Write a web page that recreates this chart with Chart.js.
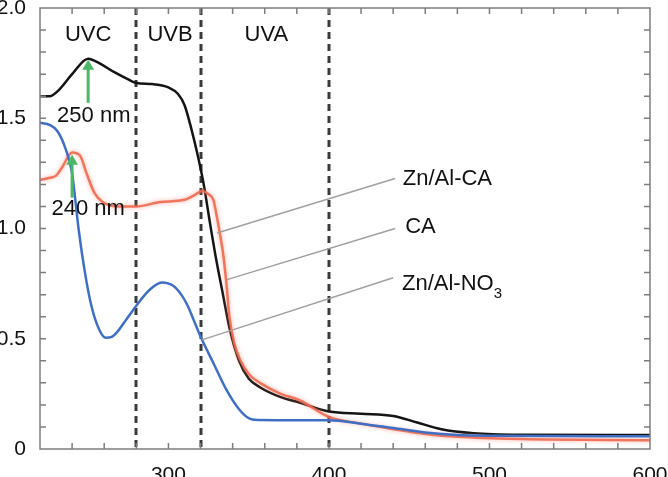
<!DOCTYPE html>
<html>
<head>
<meta charset="utf-8">
<script src="https://cdn.jsdelivr.net/npm/chart.js@4.4.0/dist/chart.umd.min.js"></script>
<style>
  html, body { margin: 0; padding: 0; background: #fff; }
  #wrap { width: 668px; height: 477px; }
</style>
</head>
<body>
<div id="wrap"><canvas id="chart" width="668" height="477"></canvas></div>
<script>
// wavelength (nm) and absorbance
const znAlCaX = [220, 226, 232, 240, 250, 258, 266, 274, 280, 290, 300, 306, 310, 314, 318, 322, 326, 330, 334, 338, 344, 350, 357, 370, 382, 400, 420, 440, 455, 470, 490, 520, 600];
const znAlCaY = [1.60, 1.60, 1.63, 1.70, 1.77, 1.745, 1.71, 1.68, 1.66, 1.655, 1.64, 1.61, 1.56, 1.46, 1.34, 1.20, 1.02, 0.85, 0.70, 0.55, 0.40, 0.32, 0.28, 0.235, 0.21, 0.17, 0.16, 0.15, 0.12, 0.09, 0.072, 0.065, 0.063];

const caX = [220, 226, 230, 234, 240, 245, 249, 254, 259, 268, 280, 295, 310, 316, 321, 325, 328, 330, 332, 334, 336, 338, 341, 345, 350, 357, 370, 382, 400, 420, 440, 460, 480, 520, 600];
const caY = [1.22, 1.23, 1.24, 1.28, 1.345, 1.33, 1.25, 1.16, 1.12, 1.10, 1.10, 1.12, 1.13, 1.15, 1.17, 1.155, 1.13, 1.06, 0.98, 0.89, 0.76, 0.60, 0.48, 0.40, 0.34, 0.30, 0.25, 0.22, 0.145, 0.115, 0.09, 0.068, 0.055, 0.045, 0.04];

const znAlNo3X = [220, 226, 231, 236, 240, 242, 244, 248, 252, 257, 261, 265, 268, 274, 280, 288, 296, 303, 308, 312, 316, 320, 328, 336, 344, 350, 356, 400, 420, 440, 460, 480, 500, 600];
const znAlNo3Y = [1.48, 1.47, 1.44, 1.36, 1.25, 1.13, 1.0, 0.80, 0.65, 0.54, 0.505, 0.51, 0.53, 0.59, 0.65, 0.72, 0.755, 0.74, 0.70, 0.65, 0.58, 0.51, 0.39, 0.27, 0.18, 0.14, 0.132, 0.13, 0.115, 0.095, 0.075, 0.063, 0.06, 0.058];

// UV band borders and names
const bandEdges = [280, 320, 400];
const bandNames = ['UVC', 'UVB', 'UVA'];
const bandLabelX = [250, 301, 361];

// peak arrows
const peakX = [250, 240];
const peakTop = [1.765, 1.335];
const peakBottom = [1.57, 1.14];
const peakText = ['250 nm', '240 nm'];
const peakTextX = [253.5, 250];
const peakTextY = [1.51, 1.09];

// curve names with their leader lines
const curveNames = ['Zn/Al-CA', 'CA', 'Zn/Al-NO'];
const leaderFrom = [[330.3, 0.98], [336.5, 0.768], [320.9, 0.495]];
const leaderTo = [[441.2, 1.227], [441.2, 1.0], [440, 0.777]];
const nameAt = [[446, 1.223], [447.5, 1.005], [445.5, 0.75]];

const FONT = '"Liberation Sans", Arial, sans-serif';

function toPoints(xs, ys) {
  return xs.map((x, i) => ({ x: x, y: ys[i] }));
}

// keep the plot box where the picture has it: no extra room for edge labels
function noEdgePadding(scale) {
  scale.paddingLeft = 0;
  scale.paddingRight = 0;
  scale.paddingTop = 0;
  scale.paddingBottom = 0;
}

// dashed band borders, under the curves
const bandPlugin = {
  id: 'bands',
  beforeDatasetsDraw(chart) {
    const { ctx, chartArea, scales } = chart;
    ctx.save();
    ctx.strokeStyle = '#3a3a3a';
    ctx.lineWidth = 3;
    ctx.setLineDash([7, 5]);
    bandEdges.forEach(v => {
      const px = Math.round(scales.x.getPixelForValue(v));
      ctx.beginPath();
      ctx.moveTo(px, chartArea.top);
      ctx.lineTo(px, chartArea.bottom);
      ctx.stroke();
    });
    ctx.restore();
  }
};

// the CA curve has a soft reddish halo in the picture
const glowPlugin = {
  id: 'glow',
  beforeDatasetDraw(chart, args) {
    if (args.index !== 1) return;
    chart.ctx.save();
    chart.ctx.shadowColor = 'rgba(245, 130, 110, 0.7)';
    chart.ctx.shadowBlur = 4;
  },
  afterDatasetDraw(chart, args) {
    if (args.index !== 1) return;
    chart.ctx.restore();
  }
};

// frame, inward ticks and all the text on the plot
const framePlugin = {
  id: 'frame',
  afterDraw(chart) {
    const { ctx, chartArea, scales } = chart;
    const { left, right, top, bottom } = chartArea;
    const x = scales.x, y = scales.y;
    ctx.save();

    ctx.strokeStyle = '#7d7d7d';
    ctx.lineWidth = 1.5;
    ctx.strokeRect(left, top, right - left, bottom - top);

    ctx.beginPath();
    x.ticks.forEach(t => {
      const px = x.getPixelForValue(t.value);
      if (px <= left + 1 || px >= right - 1) return;
      ctx.moveTo(px, bottom); ctx.lineTo(px, bottom - 6);
      ctx.moveTo(px, top); ctx.lineTo(px, top + 6);
    });
    y.ticks.forEach(t => {
      const py = y.getPixelForValue(t.value);
      if (py <= top + 1 || py >= bottom - 1) return;
      ctx.moveTo(left, py); ctx.lineTo(left + 6, py);
      ctx.moveTo(right, py); ctx.lineTo(right - 6, py);
    });
    ctx.stroke();

    // band names
    ctx.fillStyle = '#111';
    ctx.font = '22px ' + FONT;
    ctx.textAlign = 'center';
    ctx.textBaseline = 'middle';
    bandNames.forEach((n, i) => {
      ctx.fillText(n, x.getPixelForValue(bandLabelX[i]), y.getPixelForValue(1.88));
    });

    // green arrows and peak labels
    ctx.strokeStyle = '#4cb866';
    ctx.fillStyle = '#4cb866';
    ctx.lineWidth = 3;
    peakX.forEach((v, i) => {
      const px = x.getPixelForValue(v);
      const pt = y.getPixelForValue(peakTop[i]);
      const pb = y.getPixelForValue(peakBottom[i]);
      ctx.beginPath();
      ctx.moveTo(px, pb);
      ctx.lineTo(px, pt + 8);
      ctx.stroke();
      ctx.beginPath();
      ctx.moveTo(px, pt);
      ctx.lineTo(px - 6, pt + 10);
      ctx.lineTo(px + 6, pt + 10);
      ctx.closePath();
      ctx.fill();
    });
    ctx.fillStyle = '#111';
    peakText.forEach((s, i) => {
      ctx.fillText(s, x.getPixelForValue(peakTextX[i]), y.getPixelForValue(peakTextY[i]));
    });

    // leader lines
    ctx.strokeStyle = '#a0a0a0';
    ctx.lineWidth = 1.5;
    leaderFrom.forEach((p, i) => {
      ctx.beginPath();
      ctx.moveTo(x.getPixelForValue(p[0]), y.getPixelForValue(p[1]));
      ctx.lineTo(x.getPixelForValue(leaderTo[i][0]), y.getPixelForValue(leaderTo[i][1]));
      ctx.stroke();
    });

    // curve names, the last one gets a subscript 3
    ctx.textAlign = 'left';
    curveNames.forEach((n, i) => {
      const px = x.getPixelForValue(nameAt[i][0]);
      const py = y.getPixelForValue(nameAt[i][1]);
      ctx.font = '22px ' + FONT;
      ctx.fillText(n, px, py);
      if (i === 2) {
        const w = ctx.measureText(n).width;
        ctx.font = '15px ' + FONT;
        ctx.fillText('3', px + w, py + 10);
      }
    });

    ctx.restore();
  }
};

const ctx = document.getElementById('chart').getContext('2d');
new Chart(ctx, {
  type: 'line',
  data: {
    datasets: [
      {
        label: 'Zn/Al-NO3',
        data: toPoints(znAlNo3X, znAlNo3Y),
        borderColor: '#3f6fc4',
        borderWidth: 2.5
      },
      {
        label: 'CA',
        data: toPoints(caX, caY),
        borderColor: 'rgba(240, 105, 80, 0.9)',
        borderWidth: 2.5
      },
      {
        label: 'Zn/Al-CA',
        data: toPoints(znAlCaX, znAlCaY),
        borderColor: '#141414',
        borderWidth: 2.5
      }
    ]
  },
  options: {
    responsive: false,
    animation: false,
    layout: { padding: { top: 8, right: 18, left: 0, bottom: 0 } },
    elements: {
      point: { radius: 0 },
      line: { cubicInterpolationMode: 'monotone', fill: false }
    },
    plugins: {
      legend: { display: false },
      tooltip: { enabled: false }
    },
    scales: {
      x: {
        type: 'linear',
        min: 220,
        max: 600,
        grid: { display: false },
        border: { display: false },
        afterFit(scale) { scale.height = 28; noEdgePadding(scale); },
        ticks: {
          stepSize: 20,
          autoSkip: false,
          maxRotation: 0,
          padding: 6,
          color: '#111',
          font: { family: FONT, size: 21 },
          callback: v => (v % 100 === 0 ? String(v) : '')
        }
      },
      y: {
        min: 0,
        max: 2,
        grid: { display: false },
        border: { display: false },
        afterFit(scale) { scale.width = 40; noEdgePadding(scale); },
        ticks: {
          stepSize: 0.1,
          autoSkip: false,
          padding: 6,
          color: '#111',
          font: { family: FONT, size: 21 },
          callback: v => {
            const r = Math.round(v * 10);
            if (r % 5 !== 0) return '';
            return r === 0 ? '0' : (r / 10).toFixed(1);
          }
        }
      }
    }
  },
  plugins: [bandPlugin, glowPlugin, framePlugin]
});
</script>
</body>
</html>
